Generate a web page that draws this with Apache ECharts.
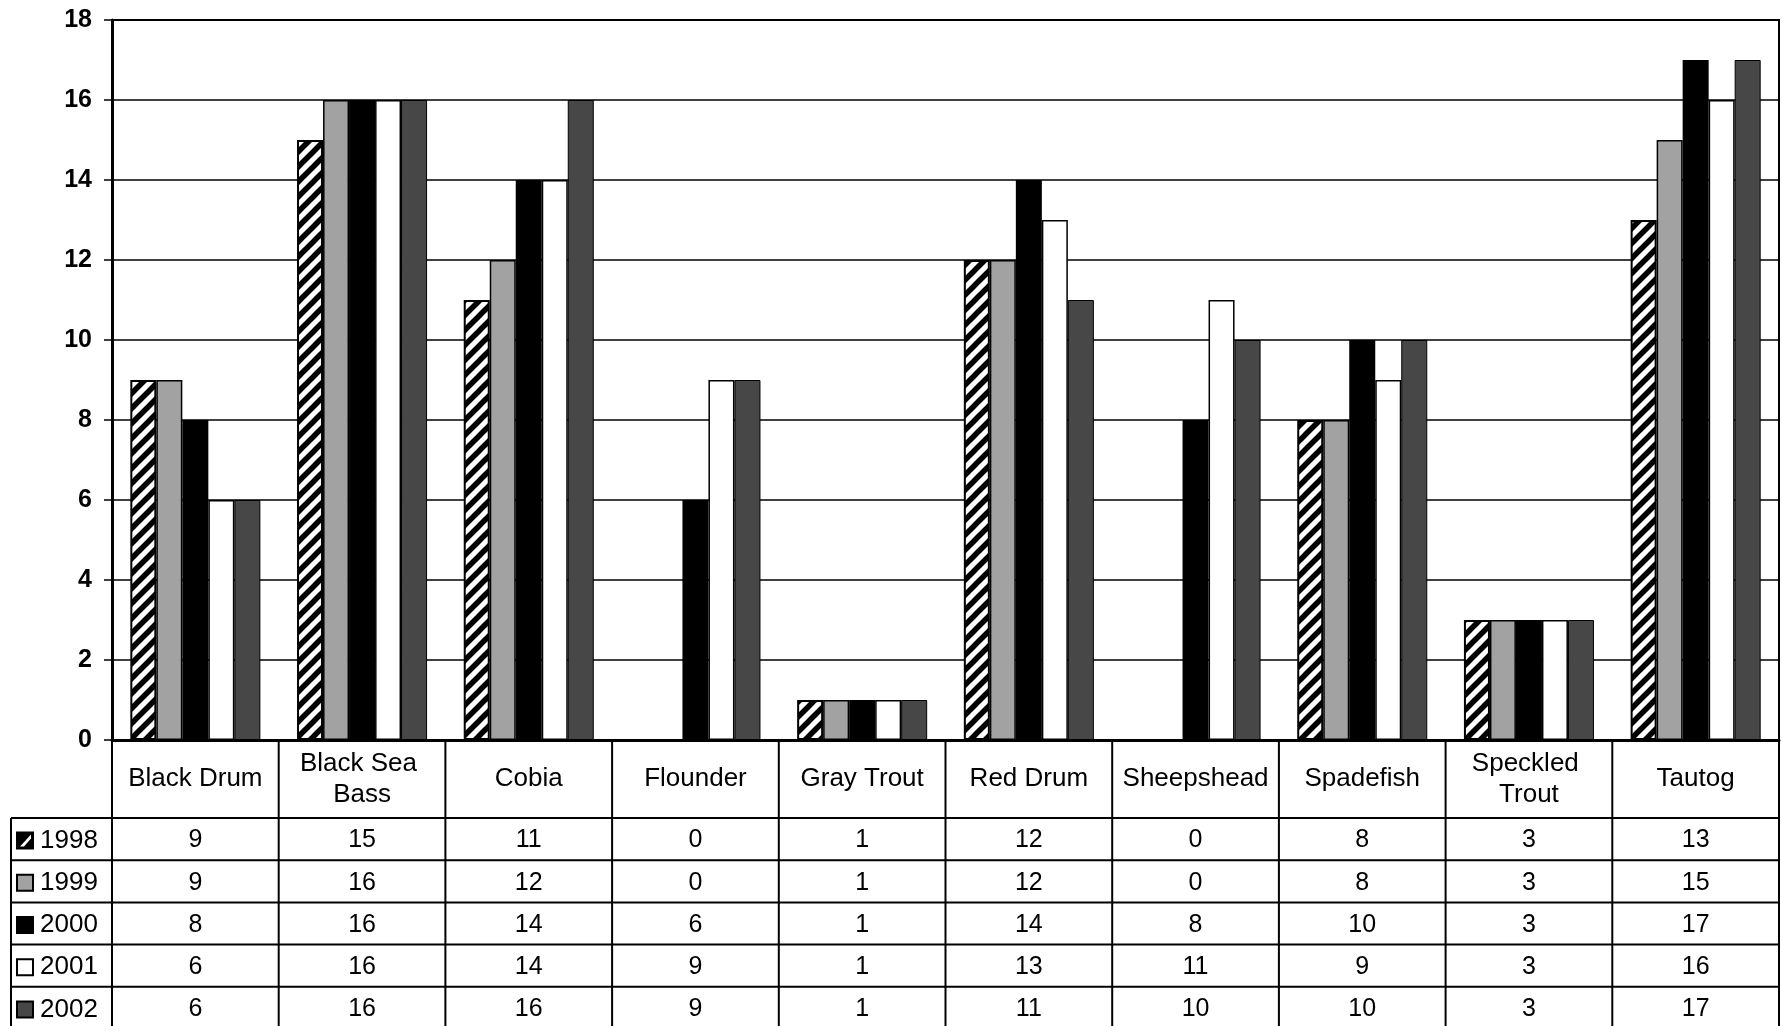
<!DOCTYPE html>
<html><head><meta charset="utf-8">
<script src="https://cdn.jsdelivr.net/npm/echarts@6/dist/echarts.min.js"></script>
<style>html,body{margin:0;padding:0;background:#fff}#c{width:1782px;height:1026px}</style>
</head><body><div id="c"></div>
<script>
const categories = ['Black Drum','Black Sea Bass','Cobia','Flounder','Gray Trout','Red Drum','Sheepshead','Spadefish','Speckled Trout','Tautog'];
const years = ['1998','1999','2000','2001','2002'];
const v1998 = [9,15,11,0,1,12,0,8,3,13];
const v1999 = [9,16,12,0,1,12,0,8,3,15];
const v2000 = [8,16,14,6,1,14,8,10,3,17];
const v2001 = [6,16,14,9,1,13,11,9,3,16];
const v2002 = [6,16,16,9,1,11,10,10,3,17];
const yMin = 0, yMax = 18, yStep = 2;

const FONT = '"Liberation Sans", Arial, sans-serif';

// hatch pattern
function hatch() {
  const s = 15, c = document.createElement('canvas');
  c.width = s; c.height = s;
  const g = c.getContext('2d');
  g.fillStyle = '#fff'; g.fillRect(0,0,s,s);
  g.strokeStyle = '#000'; g.lineWidth = 5.5;
  for (const o of [-s, 0, s]) {
    g.beginPath(); g.moveTo(o - 2, s + 2); g.lineTo(o + s + 2, -2); g.stroke();
  }
  return {image: c, repeat: 'repeat'};
}
const hatchFill = hatch();

const styles = [
  {color: hatchFill, borderColor: '#000', borderWidth: 2},
  {color: '#a2a2a2', borderColor: '#000', borderWidth: 1.5},
  {color: '#000', borderColor: '#000', borderWidth: 0},
  {color: '#fff', borderColor: '#000', borderWidth: 1.5},
  {color: '#474747', borderColor: '#000', borderWidth: 1}
];
const values = [v1998, v1999, v2000, v2001, v2002];

const chart = echarts.init(document.getElementById('c'), null, {renderer: 'canvas'});
const gridL = 112, gridR = 3, gridT = 20, gridB = 286;

chart.setOption({
  animation: false,
  backgroundColor: '#fff',
  grid: {left: gridL, right: gridR, top: gridT, bottom: gridB, show: true, borderColor: '#000', borderWidth: 2, backgroundColor: 'transparent'},
  xAxis: {
    type: 'category', data: categories,
    axisLine: {lineStyle: {color: '#000', width: 3}},
    axisTick: {show: false},
    axisLabel: {color: '#000', fontFamily: FONT, fontSize: 26, width: 155, overflow: 'break',
      lineHeight: 31, margin: 39, verticalAlign: 'middle', interval: 0}
  },
  yAxis: {
    type: 'value', min: yMin, max: yMax, interval: yStep,
    axisLine: {show: true, lineStyle: {color: '#000', width: 3}},
    axisTick: {show: true, length: 8, lineStyle: {color: '#000', width: 1.5}},
    axisLabel: {color: '#000', fontFamily: FONT, fontSize: 25, fontWeight: 'bold', margin: 20},
    splitLine: {lineStyle: {color: '#000', width: 1.5}}
  },
  series: years.map((y, i) => ({
    name: y, type: 'bar', data: values[i],
    barGap: '0%', barCategoryGap: '22%',
    itemStyle: styles[i]
  }))
});

// table built from the data + axis scale
const g = [];
const x0 = chart.convertToPixel({xAxisIndex: 0}, 0);
const x1 = chart.convertToPixel({xAxisIndex: 0}, 1);
const band = x1 - x0;
const axisY = chart.convertToPixel({yAxisIndex: 0}, 0);
const plotLeft = gridL, plotRight = 1782 - gridR;
const headBottom = 818, rowH = 42.2, tableLeft = 11;
const tableBottom = 1026;
function line(xa, ya, xb, yb, w) {
  g.push({type: 'line', shape: {x1: xa, y1: ya, x2: xb, y2: yb}, style: {stroke: '#000', lineWidth: w || 2}, z: 10});
}
function text(t, x, y, align, size) {
  g.push({type: 'text', x: x, y: y, style: {text: t, fill: '#000', font: (size || 25) + 'px ' + FONT,
    textAlign: align, textVerticalAlign: 'middle', align: align, verticalAlign: 'middle'}, z: 11});
}
// vertical column lines
for (let i = 0; i <= categories.length; i++) {
  const x = plotLeft + i * band;
  line(x, axisY, x, tableBottom, 2);
}
line(tableLeft, headBottom, tableLeft, tableBottom, 2);
// horizontal row lines
for (let r = 0; r < years.length; r++) {
  const y = headBottom + r * rowH;
  line(tableLeft, y, plotRight, y, 2);
}
// rows
years.forEach((yr, r) => {
  const cy = headBottom + (r + 0.5) * rowH + 1.5;
  const st = styles[r];
  g.push({type: 'rect', shape: {x: 17, y: cy - 8, width: 16, height: 16},
    style: {fill: r === 0 ? '#000' : st.color, stroke: '#000', lineWidth: 2}, z: 11});
  if (r === 0) {
    g.push({type: 'polygon', shape: {points: [[20, cy + 6], [31, cy - 6], [31, cy - 2], [24, cy + 6]]},
      style: {fill: '#fff'}, z: 12});
  }
  text(yr, 40, cy, 'left', 26);
  values[r].forEach((v, c) => {
    const cx = chart.convertToPixel({xAxisIndex: 0}, c);
    text(String(v), cx, cy, 'center', 25);
  });
});
chart.setOption({graphic: g});
</script></body></html>
